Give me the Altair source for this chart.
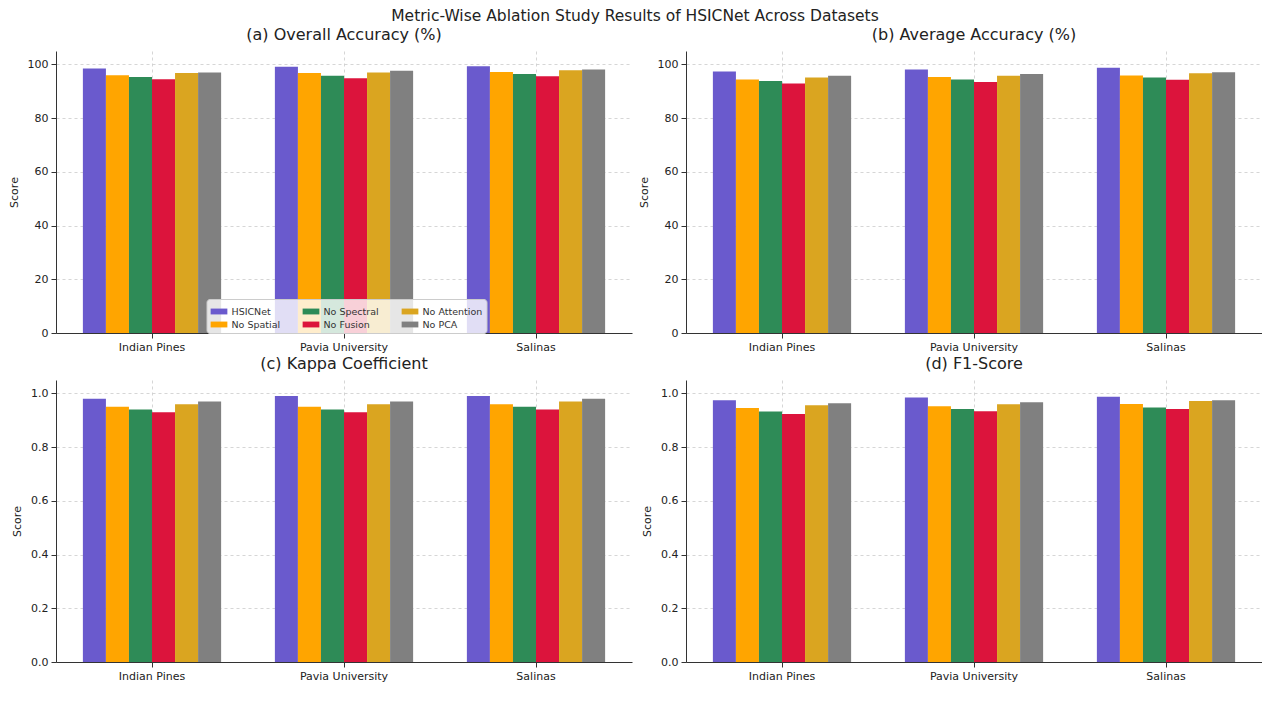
import altair as alt
import pandas as pd

datasets = ["Indian Pines", "Pavia University", "Salinas"]
variants = ["HSICNet", "No Spatial", "No Spectral", "No Fusion", "No Attention", "No PCA"]
colors = ["#6A5ACD", "#FFA500", "#2E8B57", "#DC143C", "#DAA520", "#808080"]

# Overall Accuracy (%) per dataset, in variant order
oa_indian = [98.5, 96.0, 95.3, 94.5, 96.8, 97.0]
oa_pavia = [99.1, 96.8, 95.8, 94.9, 97.0, 97.6]
oa_salinas = [99.3, 97.2, 96.4, 95.6, 97.8, 98.1]

# Average Accuracy (%)
aa_indian = [97.4, 94.4, 93.8, 92.9, 95.1, 95.8]
aa_pavia = [98.1, 95.3, 94.4, 93.5, 95.8, 96.4]
aa_salinas = [98.8, 95.9, 95.1, 94.3, 96.7, 97.1]

# Kappa Coefficient
kappa_indian = [0.98, 0.95, 0.94, 0.93, 0.96, 0.97]
kappa_pavia = [0.99, 0.95, 0.94, 0.93, 0.96, 0.97]
kappa_salinas = [0.99, 0.96, 0.95, 0.94, 0.97, 0.98]

# F1-Score
f1_indian = [0.975, 0.946, 0.933, 0.923, 0.956, 0.963]
f1_pavia = [0.985, 0.952, 0.942, 0.934, 0.960, 0.967]
f1_salinas = [0.988, 0.961, 0.948, 0.942, 0.972, 0.975]

W = 576
H = 282
FONT = "DejaVu Sans"


def make_df(rows):
    recs = []
    for d, vals in zip(datasets, rows):
        for v, val in zip(variants, vals):
            recs.append({"Dataset": d, "Variant": v, "Score": val})
    return pd.DataFrame(recs)


def panel(rows, title, ymax, ticks, fmt, show_legend):
    df = make_df(rows)
    if show_legend:
        legend = alt.Legend(
            title=None,
            orient="none",
            columns=3,
            legendX=(W - 275) / 2,
            legendY=H - 34,
            symbolType="M-1,-0.35H1V0.35H-1Z",
            symbolSize=280,
            symbolStrokeWidth=0,
            labelFontSize=9.5,
            labelFont=FONT,
            labelColor="#333333",
            columnPadding=22,
            rowPadding=0,
            fillColor="rgba(255,255,255,0.8)",
            strokeColor="#cccccc",
            padding=4,
            cornerRadius=3,
        )
    else:
        legend = None
    return (
        alt.Chart(df, title=alt.TitleParams(title, fontSize=16, font=FONT, fontWeight="normal",
                                            color="#222222", offset=8))
        .mark_bar()
        .encode(
            x=alt.X("Dataset:N", sort=datasets,
                    scale=alt.Scale(paddingInner=0.28, paddingOuter=0.14),
                    axis=alt.Axis(title=None, labelAngle=0, grid=True, bandPosition=0.5)),
            xOffset=alt.XOffset("Variant:N", sort=variants,
                                scale=alt.Scale(paddingInner=0, paddingOuter=0)),
            y=alt.Y("Score:Q", scale=alt.Scale(domain=[0, ymax], nice=False),
                    axis=alt.Axis(title="Score", values=ticks, format=fmt)),
            color=alt.Color("Variant:N",
                            scale=alt.Scale(domain=variants, range=colors),
                            legend=legend),
        )
        .properties(width=W, height=H)
    )


pa = panel([oa_indian, oa_pavia, oa_salinas], "(a) Overall Accuracy (%)", 105,
           [0, 20, 40, 60, 80, 100], "d", True)
pb = panel([aa_indian, aa_pavia, aa_salinas], "(b) Average Accuracy (%)", 105,
           [0, 20, 40, 60, 80, 100], "d", False)
pc = panel([kappa_indian, kappa_pavia, kappa_salinas], "(c) Kappa Coefficient", 1.05,
           [0, 0.2, 0.4, 0.6, 0.8, 1.0], ".1f", False)
pd_ = panel([f1_indian, f1_pavia, f1_salinas], "(d) F1-Score", 1.05,
            [0, 0.2, 0.4, 0.6, 0.8, 1.0], ".1f", False)

chart = (
    alt.concat(pa, pb, pc, pd_, columns=2, spacing={"row": 4, "column": 6})
    .resolve_scale(color="independent")
    .properties(
        title=alt.TitleParams("Metric-Wise Ablation Study Results of HSICNet Across Datasets",
                              fontSize=15.5, font=FONT, fontWeight="normal", color="#222222",
                              anchor="middle", offset=3),
        padding={"left": 0, "top": 0, "right": 0, "bottom": 10},
    )
    .configure_view(stroke=None)
    .configure_axis(
        labelFont=FONT, titleFont=FONT, labelFontSize=11, titleFontSize=11,
        titleFontWeight="normal", labelColor="#222222", titleColor="#222222",
        domainColor="#333333", tickColor="#333333", gridColor="#cccccc",
        gridDash=[3, 3], gridOpacity=0.8, labelPadding=3, titlePadding=8,
    )
)

chart.save("out.html", embed_options={"renderer": "svg", "actions": False})
